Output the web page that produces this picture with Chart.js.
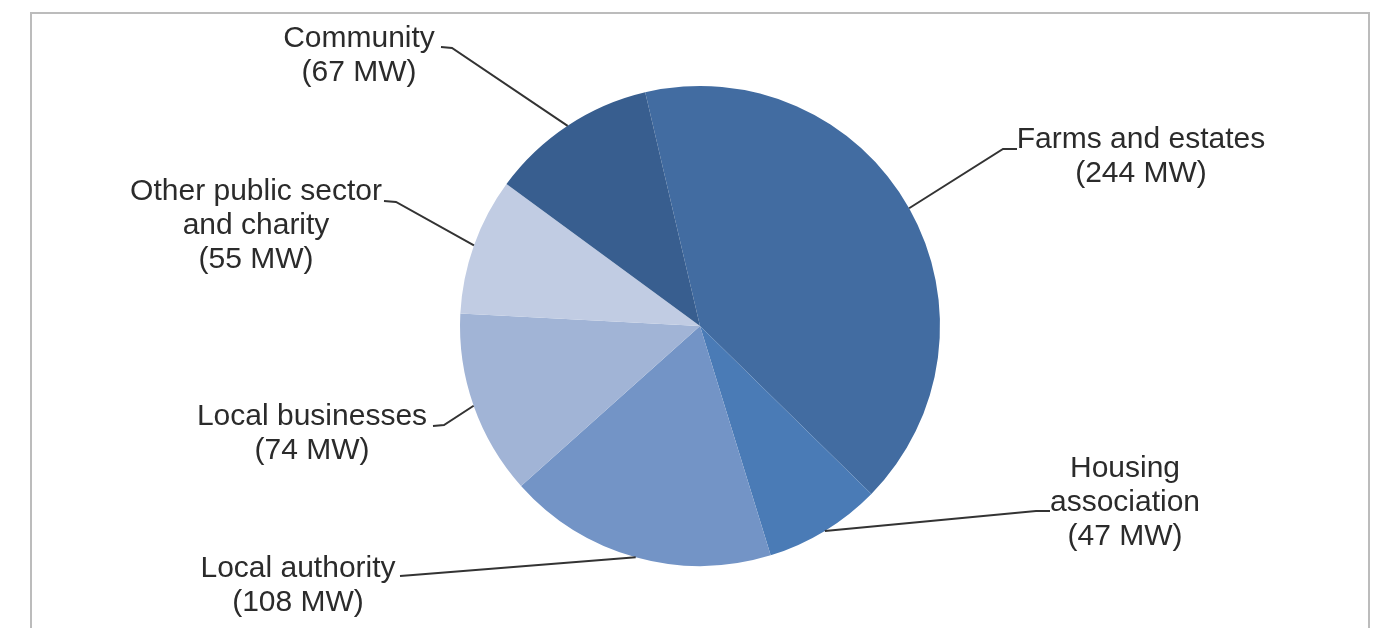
<!DOCTYPE html>
<html>
<head>
    <title>Capacity by owner type</title>
    <script src="https://cdn.jsdelivr.net/npm/chart.js"></script>
    <style>
        body { margin: 0; background: #fff; }
        canvas { display: block; }
    </style>
</head>
<body>
    <canvas id="ownerChart" width="1379" height="628"></canvas>
    <script>
        // categories and values (MW), clockwise starting with farms
        const categories = ['Farms and estates', 'Housing association', 'Local authority',
                            'Local businesses', 'Other public sector and charity', 'Community'];
        const capacityMW = [244, 47, 108, 74, 55, 67];
        // how each label name is broken into lines
        const labelLines = [
            ['Farms and estates'],
            ['Housing', 'association'],
            ['Local authority'],
            ['Local businesses'],
            ['Other public sector', 'and charity'],
            ['Community']
        ];
        const sliceColors = ['#426ca1', '#4a7bb6', '#7394c6', '#a1b4d6', '#c1cce3', '#385e8f'];

        // where the label text sits (centre x, first baseline) and where the leader line bends
        const labelLayout = [
            { x: 1141, y: 148, end: [1017, 149], elbow: [1003, 149] },
            { x: 1125, y: 477, end: [1050, 511], elbow: [1036, 511] },
            { x: 298,  y: 577, end: [400, 576],  elbow: [413, 575] },
            { x: 312,  y: 425, end: [433, 426],  elbow: [444, 425] },
            { x: 256,  y: 200, end: [384, 201],  elbow: [396, 202] },
            { x: 359,  y: 47,  end: [441, 47],   elbow: [452, 48] }
        ];
        const lineGap = 34;

        const framePlugin = {
            id: 'frame',
            beforeDraw(chart) {
                const ctx = chart.ctx;
                ctx.save();
                ctx.strokeStyle = '#bcbcbc';
                ctx.lineWidth = 2;
                ctx.beginPath();
                ctx.moveTo(31, 640);
                ctx.lineTo(31, 13);
                ctx.lineTo(1369, 13);
                ctx.lineTo(1369, 640);
                ctx.stroke();
                ctx.restore();
            }
        };

        const calloutPlugin = {
            id: 'callouts',
            afterDatasetsDraw(chart) {
                const ctx = chart.ctx;
                const meta = chart.getDatasetMeta(0);
                ctx.save();
                meta.data.forEach((arc, i) => {
                    const p = arc.getProps(['x', 'y', 'startAngle', 'endAngle', 'outerRadius'], true);
                    const mid = (p.startAngle + p.endAngle) / 2;
                    const ax = p.x + Math.cos(mid) * p.outerRadius;
                    const ay = p.y + Math.sin(mid) * p.outerRadius;
                    const lay = labelLayout[i];

                    ctx.strokeStyle = '#333';
                    ctx.lineWidth = 2;
                    ctx.beginPath();
                    ctx.moveTo(lay.end[0], lay.end[1]);
                    ctx.lineTo(lay.elbow[0], lay.elbow[1]);
                    ctx.lineTo(ax, ay);
                    ctx.stroke();

                    ctx.fillStyle = '#2b2b2b';
                    ctx.font = '30px "Liberation Sans", Arial, sans-serif';
                    ctx.textAlign = 'center';
                    ctx.textBaseline = 'alphabetic';
                    const lines = labelLines[i].concat(['(' + capacityMW[i] + ' MW)']);
                    lines.forEach((t, k) => ctx.fillText(t, lay.x, lay.y + k * lineGap));
                });
                ctx.restore();
            }
        };

        const ctx = document.getElementById('ownerChart').getContext('2d');
        new Chart(ctx, {
            type: 'pie',
            data: {
                labels: categories,
                datasets: [{
                    data: capacityMW,
                    backgroundColor: sliceColors,
                    borderWidth: 0,
                    hoverOffset: 0
                }]
            },
            options: {
                responsive: false,
                animation: false,
                rotation: -13.2,
                layout: { padding: { left: 460, right: 439, top: 86, bottom: 62 } },
                plugins: {
                    legend: { display: false },
                    tooltip: { enabled: false }
                }
            },
            plugins: [framePlugin, calloutPlugin]
        });
    </script>
</body>
</html>
